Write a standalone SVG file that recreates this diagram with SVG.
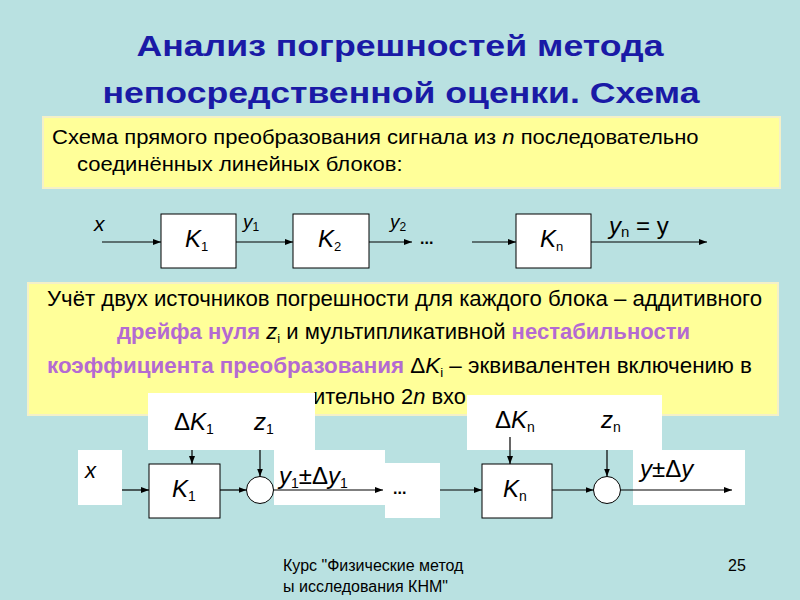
<svg xmlns="http://www.w3.org/2000/svg" width="800" height="600" viewBox="0 0 800 600">
<defs>
<marker id="ah" viewBox="0 0 8 6" refX="8" refY="3" markerWidth="8" markerHeight="6" markerUnits="userSpaceOnUse" orient="auto">
<path d="M0,0 L8,3 L0,6 Z" fill="#000"/>
</marker>
<style>
.bg{fill:#b9e1e1}
.yb{fill:#ffff99;stroke:#f4f0c8;stroke-width:2}
.wb{fill:#ffffff}
.blk{fill:#ffffff;stroke:#000;stroke-width:1}
.arr{stroke:#000;stroke-width:1.2;fill:none;marker-end:url(#ah)}
.title{font-family:"Liberation Sans",Arial,sans-serif;font-weight:bold;font-size:29px;fill:#1a1aa6;text-anchor:middle}
.body{font-family:"Liberation Sans",Arial,sans-serif;font-size:20px;fill:#000}
.body2{font-family:"Liberation Sans",Arial,sans-serif;font-size:22px;fill:#000}
.pur{fill:#b46ad2;font-weight:bold}
.var{font-family:"Liberation Sans",Arial,sans-serif;font-style:italic;fill:#000}
.up{font-style:normal}
.foot{font-family:"Liberation Sans",Arial,sans-serif;font-size:16px;fill:#000}
</style>
</defs>
<rect class="bg" x="0" y="0" width="800" height="600"/>

<g id="title">
<text class="title" x="400" y="56" textLength="527" lengthAdjust="spacingAndGlyphs">Анализ погрешностей метода</text>
<text class="title" x="401" y="103" textLength="597" lengthAdjust="spacingAndGlyphs">непосредственной оценки. Схема</text>
</g>

<g id="intro">
<rect class="yb" x="43" y="117" width="737" height="71"/>
<text class="body" transform="translate(52,144) scale(1.1,1)" x="0" y="0">Схема прямого преобразования сигнала из <tspan font-style="italic">n</tspan> последовательно</text>
<text class="body" transform="translate(77,171) scale(1.1,1)" x="0" y="0">соединённых линейных блоков:</text>
</g>

<g id="explain">
<rect class="yb" x="28" y="283" width="750" height="132"/>
<text class="body2" x="47" y="306" textLength="715" lengthAdjust="spacingAndGlyphs">Учёт двух источников погрешности для каждого блока – аддитивного</text>
<text class="body2" x="117" y="339" textLength="573" lengthAdjust="spacingAndGlyphs"><tspan class="pur">дрейфа нуля</tspan> <tspan font-style="italic">z</tspan><tspan font-size="13" dy="4">i</tspan><tspan dy="-4"> и мультипликативной </tspan><tspan class="pur">нестабильности</tspan></text>
<text class="body2" x="47" y="373" textLength="705" lengthAdjust="spacingAndGlyphs"><tspan class="pur">коэффициента преобразования</tspan> Δ<tspan font-style="italic">K</tspan><tspan font-size="13" dy="4">i</tspan><tspan dy="-4"> – эквивалентен включению в</tspan></text>
<text class="body2" x="313" y="404" textLength="153" lengthAdjust="spacingAndGlyphs">ительно 2<tspan font-style="italic">n</tspan> вхо</text>
</g>

<g id="top-x"><text class="var" x="94" y="231" font-size="21">x</text></g>
<g id="top-K1">
<rect class="blk" x="161" y="214" width="75" height="54"/>
<text class="var" x="185" y="247" font-size="24">K<tspan class="up" font-size="13" dy="4">1</tspan></text>
</g>
<g id="top-y1"><text class="var" x="243" y="228" font-size="19">y<tspan class="up" font-size="12" dy="3">1</tspan></text></g>
<g id="top-K2">
<rect class="blk" x="293" y="214" width="76" height="54"/>
<text class="var" x="318" y="247" font-size="24">K<tspan class="up" font-size="13" dy="4">2</tspan></text>
</g>
<g id="top-y2"><text class="var" x="390" y="228" font-size="19">y<tspan class="up" font-size="12" dy="3">2</tspan></text></g>
<g id="top-dots"><text class="foot" x="420" y="244" font-size="20" font-weight="bold">...</text></g>
<g id="top-Kn">
<rect class="blk" x="516" y="214" width="75" height="54"/>
<text class="var" x="540" y="247" font-size="24">K<tspan class="up" font-size="13" dy="4">n</tspan></text>
</g>
<g id="top-yn"><text class="var" x="609" y="234" font-size="24">y<tspan class="up" font-size="15" dy="3">n</tspan><tspan class="up" dy="-3"> = y</tspan></text></g>

<g id="connectors-top">
<line class="arr" x1="102" y1="242" x2="161" y2="242"/>
<line class="arr" x1="236" y1="242" x2="293" y2="242"/>
<line class="arr" x1="369" y1="242" x2="412" y2="242"/>
<line class="arr" x1="472" y1="242" x2="516" y2="242"/>
<line class="arr" x1="591" y1="242" x2="707" y2="242"/>
</g>

<g id="bottom-labels">
<rect class="wb" x="148" y="393" width="167" height="57"/>
<rect class="wb" x="78" y="450" width="44" height="55"/>
<rect class="wb" x="274" y="450" width="111" height="55"/>
<rect class="wb" x="385" y="463" width="55" height="55"/>
<rect class="wb" x="467" y="395" width="195" height="55"/>
<rect class="wb" x="633" y="450" width="112" height="55"/>
</g>

<g id="dK1"><text class="var" x="174" y="430" font-size="24"><tspan class="up">Δ</tspan>K<tspan class="up" font-size="14" dy="4">1</tspan></text></g>
<g id="z1"><text class="var" x="254" y="430" font-size="24">z<tspan class="up" font-size="14" dy="4">1</tspan></text></g>
<g id="bx"><text class="var" x="85" y="478" font-size="22">x</text></g>
<g id="K1">
<rect class="blk" x="149" y="464" width="71" height="54"/>
<text class="var" x="172" y="497" font-size="24">K<tspan class="up" font-size="14" dy="4">1</tspan></text>
</g>
<g id="sum1"><circle class="blk" cx="260" cy="490" r="13.5"/></g>
<g id="y1dy1"><text class="var" x="279" y="484" font-size="24">y<tspan class="up" font-size="14" dy="4">1</tspan><tspan class="up" dy="-4">±Δ</tspan>y<tspan class="up" font-size="14" dy="4">1</tspan></text></g>
<g id="bdots"><text class="foot" x="393" y="494" font-size="20" font-weight="bold">...</text></g>
<g id="dKn"><text class="var" x="495" y="428" font-size="24"><tspan class="up">Δ</tspan>K<tspan class="up" font-size="14" dy="4">n</tspan></text></g>
<g id="zn"><text class="var" x="601" y="428" font-size="24">z<tspan class="up" font-size="14" dy="4">n</tspan></text></g>
<g id="Kn">
<rect class="blk" x="482" y="464" width="70" height="54"/>
<text class="var" x="503" y="497" font-size="24">K<tspan class="up" font-size="14" dy="4">n</tspan></text>
</g>
<g id="sumn"><circle class="blk" cx="607" cy="490" r="13.5"/></g>
<g id="ydy"><text class="var" x="640" y="477" font-size="24">y<tspan class="up">±Δ</tspan>y</text></g>

<g id="connectors-bottom">
<line class="arr" x1="122" y1="490" x2="149" y2="490"/>
<line class="arr" x1="220" y1="490" x2="246.5" y2="490"/>
<line class="arr" x1="273.5" y1="490" x2="383" y2="490"/>
<line class="arr" x1="440" y1="490" x2="482" y2="490"/>
<line class="arr" x1="552" y1="490" x2="593.5" y2="490"/>
<line class="arr" x1="620.5" y1="490" x2="732" y2="490"/>
<line class="arr" x1="192" y1="450" x2="192" y2="464"/>
<line class="arr" x1="260" y1="450" x2="260" y2="476.5"/>
<line class="arr" x1="510" y1="437" x2="510" y2="464"/>
<line class="arr" x1="607" y1="450" x2="607" y2="476.5"/>
</g>

<g id="footer">
<text class="foot" x="283" y="571">Курс "Физические метод</text>
<text class="foot" x="283" y="592">ы исследования КНМ"</text>
<text class="foot" x="728" y="571" font-size="17">25</text>
</g>
</svg>
